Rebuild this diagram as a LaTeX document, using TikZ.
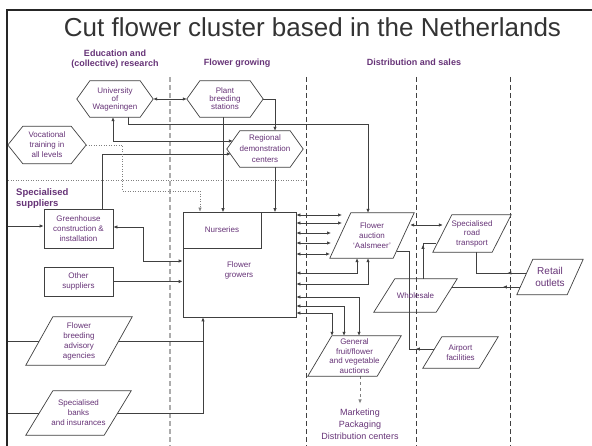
\documentclass[tikz,border=0pt]{standalone}
\usepackage{fontspec}
\setmainfont{Liberation Sans}
\usetikzlibrary{arrows.meta,calc}
\definecolor{ink}{RGB}{64,64,64}
\definecolor{plum}{RGB}{102,51,119}
\definecolor{titlegray}{RGB}{51,51,51}
\newcommand\fsz[2]{\fontsize{#1}{#2}\selectfont}
% hexagon outline around a rectangular node (#2 = depth of the side points)
\newcommand\hexoutline[2]{\draw[outline,fill=white] (#1.west) -- ([xshift=#2]#1.north west) -- ([xshift=-#2]#1.north east) -- (#1.east) -- ([xshift=-#2]#1.south east) -- ([xshift=#2]#1.south west) -- cycle;}
% parallelogram outline around a rectangular node (#3 = slant)
\newcommand\paraoutline[3][white]{\draw[outline,fill=#1] (#2.south west) -- ([xshift=#3]#2.north west) -- (#2.north east) -- ([xshift=-#3]#2.south east) -- cycle;}
\pgfdeclarelayer{wires}
\pgfdeclarelayer{shapes}
\pgfsetlayers{wires,shapes,main}
\begin{document}
\begin{tikzpicture}[x=1pt,y=-1pt,
  outline/.style={draw=ink, line width=0.7pt},
  conn/.style={draw=ink, line width=0.7pt},
  >={Latex[length=4pt,width=3.4pt]},
  lbl/.style={inner sep=0pt, align=center, text=plum, font=\fsz{8}{10}},
  colhead/.style={inner sep=0pt, align=center, text=plum, font=\bfseries\fsz{9}{10.5}},
  rbox/.style={lbl, draw=ink, line width=0.7pt},
]
\useasboundingbox (0,0) rectangle (592,446);

% frame and title
\draw[line width=2pt, black!85, line join=miter] (7,446) -- (7,10) -- (592,10);
\coordinate (fl) at (7,0);
\node[anchor=base, font=\fsz{26}{30}, text=titlegray, inner sep=0pt] (title) at (312.5,36.5) {Cut flower cluster based in the Netherlands};

% column headings
\node[colhead] (hedu) at (115,59) {Education and\\(collective) research};
\node[colhead, anchor=base] (hgrow) at (237,65.5) {Flower growing};
\node[colhead, anchor=base] (hdist) at (414,66) {Distribution and sales};
\node[colhead, align=left, anchor=west, font=\bfseries\fsz{9.5}{11}] (hsup) at (16,199) {Specialised\\suppliers};

% education and research
\node[lbl, minimum width=76pt, minimum height=36pt, font=\fsz{8}{8}] (univ) at (115,99) {University\\of\\Wageningen};
\node[lbl, minimum width=76pt, minimum height=36pt, font=\fsz{8}{8}] (plant) at (225,99) {Plant\\breeding\\stations};
\node[lbl, minimum width=78pt, minimum height=37pt] (voc) at (47,145) {Vocational\\training in\\all levels};
\node[lbl, minimum width=76pt, minimum height=36pt, font=\fsz{8}{11}] (reg) at (265,149) {Regional\\demonstration\\centers};

% suppliers
\node[rbox, minimum width=69pt, minimum height=39pt] (green) at (78.5,228.5) {Greenhouse\\construction \&\\installation};
\node[rbox, minimum width=69pt, minimum height=29pt] (other) at (78.5,281.5) {Other\\suppliers};
\node[lbl, minimum width=106pt, minimum height=48pt] (adv) at (79,341) {Flower\\breeding\\advisory\\agencies};
\node[lbl, minimum width=105pt, minimum height=44pt] (bank) at (78.5,413) {Specialised\\banks\\and insurances};

% growers
\node[rbox, minimum width=113pt, minimum height=105pt] (growers) at (239.5,264.5) {};
\node[rbox, minimum width=78pt, minimum height=36pt, anchor=north west] (nurs) at (growers.north west) {Nurseries};
\node[lbl] (growlbl) at (239,270) {Flower\\growers};

% distribution and sales
\node[lbl, minimum width=84pt, minimum height=45pt] (auct) at (372,235.5) {Flower\\auction\\`Aalsmeer'};
\node[lbl, minimum width=93pt, minimum height=40pt, font=\fsz{8}{9.7}] (gen) at (354.5,356) {General\\fruit/flower\\and vegetable\\auctions};
\node[lbl, minimum width=78pt, minimum height=37pt, font=\fsz{8}{9.5}] (trans) at (472,233.5) {Specialised\\road\\transport};
\node[lbl, minimum width=83pt, minimum height=33pt] (whole) at (415.5,295.5) {Wholesale};
\node[lbl, minimum width=75pt, minimum height=31pt] (air) at (460.5,352.5) {Airport\\facilities};
\node[lbl, minimum width=66pt, minimum height=35pt, font=\fsz{10}{12}] (ret) at (550,277) {Retail\\outlets};
\node[lbl, font=\fsz{9}{12}] (mkt) at (360,424) {Marketing\\Packaging\\Distribution centers};

% shape outlines
\begin{pgfonlayer}{shapes}
  \hexoutline{univ}{13pt}
  \hexoutline{plant}{13pt}
  \hexoutline{voc}{15pt}
  \hexoutline{reg}{13pt}
  \paraoutline{adv}{27pt}
  \paraoutline{bank}{27pt}
  \paraoutline{auct}{21pt}
  \paraoutline{gen}{24pt}
  \paraoutline{trans}{19pt}
  \paraoutline[none]{whole}{21pt}
  \paraoutline{air}{19pt}
  \paraoutline{ret}{16pt}
\end{pgfonlayer}

\begin{pgfonlayer}{wires}
  % column separators
  \draw[gray!65, line width=1.1pt, dash pattern=on 5pt off 3pt] (170,77) -- (170,446);
  \foreach \xx in {306,416,510}
    \draw[ink, line width=0.6pt, dash pattern=on 5pt off 3pt] (\xx,77) -- (\xx,446);
  \draw[gray, line width=0.5pt, dotted] (8,180) -- (306,180);

  % research and education links
  \draw[conn,<->] (univ.east) -- (plant.west);
  \draw[conn,->] (plant.east) -| ([xshift=10pt]reg.north);
  \draw[conn,->] ([xshift=13pt]univ.south) -- ++(0,7) -| ([xshift=-4pt]auct.north);
  \draw[conn,<->] ([xshift=-2pt]univ.south) |- ([shift={(6,-8)}]reg.west);
  \draw[conn,->] ([xshift=23.5pt]green.north) |- ([shift={(4,5)}]reg.west);
  \draw[->, draw=gray, line width=0.5pt, dotted] (voc.east) -| ++(36,46) -| ([xshift=-22pt]nurs.north);
  \draw[conn,->] ([xshift=-2pt]plant.south) -- ++(0,95);
  \draw[conn,->] ([xshift=10pt]reg.south) -- ++(0,45);

  % suppliers to growers
  \draw[conn,->] (fl |- green.west) ++(0,-2.5) -- ([yshift=2.5pt]green.west);
  \draw[conn,<->] ([yshift=1.5pt]green.east) -- ++(30,0) |- ([yshift=3.5pt]growers.west);
  \draw[conn,->] (other.east) -- (other.east -| growers.west);
  \coordinate (gin) at ([xshift=-36.5pt]growers.south);
  \draw[conn] (fl |- adv.west) -- (adv.west -| gin);
  \draw[conn,->] (fl |- bank.west) -| (gin);

  % growers to auctions
  \foreach \yy/\xx in {215/342, 223/342, 233/331, 243/331, 254/330}
    \draw[conn,<->] (growers.east |- 0,\yy) -- (\xx,\yy);
  \draw[conn,<->] (growers.east |- 0,273) -| ([xshift=-15pt]auct.south);
  \draw[conn,<->] (growers.east |- 0,284) -| ([xshift=-4pt]auct.south);
  \draw[conn,<->] (growers.east |- 0,297) -| ([xshift=4.5pt]gen.north);
  \draw[conn,<->] (growers.east |- 0,306) -| ([xshift=-10.5pt]gen.north);
  \draw[conn,<->] (growers.east |- 0,313) -| ([xshift=-22.5pt]gen.north);
  \draw[->, draw=gray, dashed, line width=0.6pt, shorten >=5pt] ([xshift=5.5pt]gen.south) -- (mkt.north);

  % distribution links
  \draw[conn,<->] ([shift={(-4,-10.5)}]auct.east) -- ([shift={(10,-8.5)}]trans.west);
  \draw[conn] ([shift={(-17,15.5)}]auct.east) -| ++(12,98) -- ([shift={(12,-3.5)}]air.west);
  \draw[conn,->] ([shift={(12,-3.5)}]air.west) -- ++(-19,0);
  \draw[conn] ([xshift=7.5pt]whole.north) |- ([shift={(3,9.5)}]trans.west);
  \draw[conn,->] ([xshift=7.5pt]whole.north) -- ++(0,-34);
  \draw[conn] ([xshift=4pt]trans.south) |- ([shift={(9.5,-4)}]ret.west);
  \draw[conn,->] ([shift={(9.5,-4)}]ret.west) -- ++(-19,0);
  \draw[conn] ([shift={(3,10)}]ret.west) -- ([shift={(-5,-8.5)}]whole.east);
  \draw[conn,->] ([shift={(3,10)}]ret.west) -- ++(-17,0);
\end{pgfonlayer}
\end{tikzpicture}
\end{document}
